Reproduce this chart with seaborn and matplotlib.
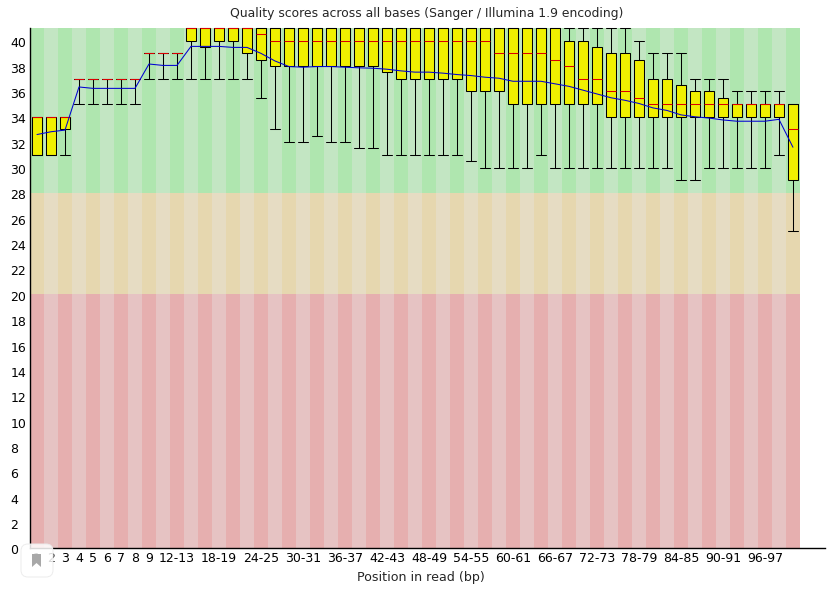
import numpy as np
import pandas as pd
import matplotlib
matplotlib.use("Agg")
import matplotlib.pyplot as plt
from matplotlib.patches import FancyBboxPatch, Polygon
from matplotlib.transforms import IdentityTransform, ScaledTranslation
import seaborn as sns

sns.set_style("white")
plt.rcParams['font.family'] = ['DejaVu Sans']

positions = [str(i) for i in range(1, 10)] + [f"{i}-{i+1}" for i in range(10, 99, 2)] + ["100"]
shown_labels = {p for i, p in enumerate(positions) if i < 9 or (i >= 10 and (i - 10) % 3 == 0 and i <= 52)}

whisker_low = [31, 31, 31, 35, 35, 35, 35, 35, 37, 37, 37, 37, 37, 37, 37, 37, 35.5, 33, 32, 32, 32.5, 32, 32, 31.5, 31.5,
               31, 31, 31, 31, 31, 31, 30.5, 30, 30, 30, 30, 31, 30, 30, 30, 30, 30, 30, 30, 30, 30, 29, 29, 30, 30, 30, 30, 30, 31, 25]
box_low = [31, 31, 33, 37, 37, 37, 37, 37, 39, 39, 39, 40, 39.5, 40, 40, 39, 38.5, 38, 38, 38, 38, 38, 38, 38, 38,
           37.5, 37, 37, 37, 37, 37, 36, 36, 36, 35, 35, 35, 35, 35, 35, 35, 34, 34, 34, 34, 34, 34, 34, 34, 34, 34, 34, 34, 34, 29]
median = [34, 34, 34, 37, 37, 37, 37, 37, 39, 39, 39, 41, 41, 41, 41, 41, 40.5, 40, 40, 40, 40, 40, 40, 40, 40,
          40, 40, 40, 40, 40, 40, 40, 40, 39, 39, 39, 39, 38.5, 38, 37, 37, 36, 36, 35.5, 35, 35, 35, 35, 35, 35, 35, 35, 35, 35, 33]
box_high = [34, 34, 34, 37, 37, 37, 37, 37, 39, 39, 39, 41, 41, 41, 41, 41, 41, 41, 41, 41, 41, 41, 41, 41, 41,
            41, 41, 41, 41, 41, 41, 41, 41, 41, 41, 41, 41, 41, 40, 40, 39.5, 39, 39, 38.5, 37, 37, 36.5, 36, 36, 35.5, 35, 35, 35, 35, 35]
whisker_high = [34, 34, 34, 37, 37, 37, 37, 37, 39, 39, 39, 41, 41, 41, 41, 41, 41, 41, 41, 41, 41, 41, 41, 41, 41,
                41, 41, 41, 41, 41, 41, 41, 41, 41, 41, 41, 41, 41, 41, 41, 41, 41, 41, 40, 39, 39, 39, 37, 37, 37, 36, 36, 36, 36, 35]
mean_quality = [32.6, 32.82, 32.95, 36.35, 36.24, 36.24, 36.24, 36.24, 38.16, 38.05, 38.05, 39.55, 39.55, 39.55, 39.47, 39.47, 39.0, 38.4, 37.96, 37.91,
                37.96, 37.96, 37.91, 37.86, 37.83, 37.75, 37.62, 37.52, 37.52, 37.44, 37.33, 37.25, 37.12, 37.04, 36.8, 36.8, 36.8, 36.6, 36.4, 36.1,
                35.8, 35.5, 35.3, 35.05, 34.7, 34.5, 34.15, 34.0, 33.9, 33.75, 33.65, 33.65, 33.65, 33.8, 31.6]

zone_low = [0, 20, 28]
zone_high = [20, 28, 41]
zone_dark = ["#e6afaf", "#e6d7af", "#afe6af"]
zone_light = ["#e6c3c3", "#e6dcc3", "#c3e6c3"]

W, H = 827, 589
fig = plt.figure(figsize=(W / 100, H / 100), dpi=100)
ax = fig.add_axes([30 / W, (H - 548) / H, 795 / W, 520 / H])

bins = np.arange(len(positions))
for lo, hi, dark, light in zip(zone_low, zone_high, zone_dark, zone_light):
    ax.bar(bins, hi - lo, bottom=lo, width=1.0, linewidth=0,
           color=[dark if i % 2 == 0 else light for i in bins], zorder=0)

long_table = pd.DataFrame({
    "position": np.repeat(positions, 5),
    "quality": np.column_stack([whisker_low, box_low, median, box_high, whisker_high]).ravel(),
})
sns.boxplot(data=long_table, x="position", y="quality", order=positions, whis=(0, 100),
            color="#f0f000", saturation=1, width=0.74, linecolor="black", linewidth=0.75,
            showfliers=False, capwidths=0.72,
            medianprops={"color": "#dc0000", "linewidth": 0.75, "zorder": 4}, ax=ax, zorder=2)
sns.lineplot(x=bins, y=mean_quality, color="#0000d2", linewidth=0.75, ax=ax, zorder=5)

for art in list(ax.lines) + list(ax.patches):
    if art.get_zorder() >= 2:
        art.set_clip_on(False)

ax.set_xlim(-0.5, 56.29)
ax.set_ylim(0, 41)
ax.set_yticks(range(0, 41, 2))
ax.set_xticks([i for i, p in enumerate(positions) if p in shown_labels])
ax.set_xticklabels([p for p in positions if p in shown_labels])
ax.tick_params(axis="both", length=0, labelsize=9, pad=3, colors="black")
ax.tick_params(axis="y", pad=14.2)
for label in ax.get_yticklabels():
    label.set_horizontalalignment("left")
    label.set_transform(label.get_transform() + ScaledTranslation(0, -1.5 / 100, fig.dpi_scale_trans))
ax.set_xlabel("Position in read (bp)", fontsize=9.1)
ax.xaxis.set_label_coords((420.5 - 30) / 795, -(578 - 548) / 520)
ax.xaxis.label.set_verticalalignment("center")
ax.set_ylabel("")
for side in ("top", "right"):
    ax.spines[side].set_visible(False)
for side in ("left", "bottom"):
    ax.spines[side].set_color("black")
    ax.spines[side].set_linewidth(1)
    ax.spines[side].set_zorder(6)

fig.text(427 / W, 1 - 14 / H, "Quality scores across all bases (Sanger / Illumina 1.9 encoding)",
         ha="center", va="center", fontsize=8.95)

# viewer badge that sits over the lower-left corner of the reference
fig.add_artist(FancyBboxPatch((21, H - 577), 32, 33, boxstyle="round,pad=0,rounding_size=7",
                              transform=IdentityTransform(), facecolor=(1, 1, 1, 0.85),
                              edgecolor="#ececec", linewidth=0.7, zorder=10))
fig.add_artist(Polygon([(32, H - 554), (41, H - 554), (41, H - 567), (36.5, H - 563), (32, H - 567)],
                       closed=True, transform=IdentityTransform(), facecolor="#a8a8a8",
                       edgecolor="none", zorder=11))

fig.savefig("out.png", dpi=100)
